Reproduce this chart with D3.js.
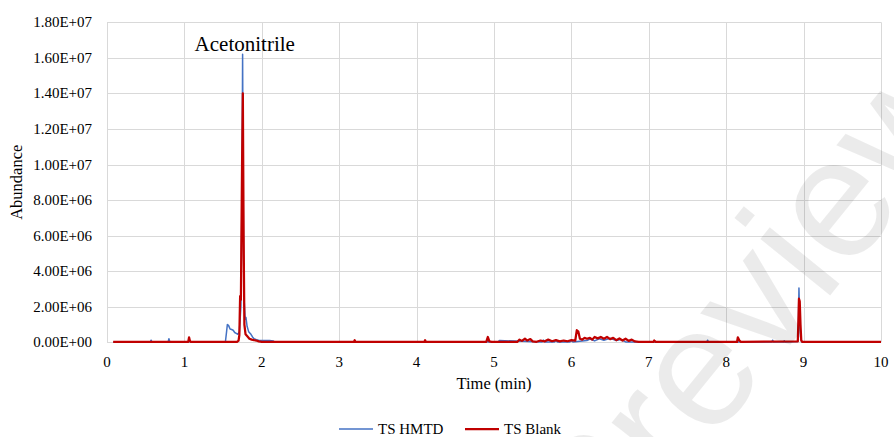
<!DOCTYPE html>
<html lang="en">
    <head>
        <meta charset="utf-8">
        <title>TS HMTD vs Blank</title>
        <script src="https://d3js.org/d3.v7.min.js"></script>
        <style type="text/css">
            body { margin: 0; background: #fff; }
            .tick-label {
                font-family: "Liberation Serif", "Times New Roman", serif;
                font-size: 15px;
                fill: #000;
            }
            .axis-title {
                font-family: "Liberation Serif", "Times New Roman", serif;
                font-size: 16.5px;
                fill: #000;
            }
        </style>
    </head>
    <body>
        <script type="text/javascript">
            // Data (abundance in millions, time in min)
            const timeHMTD = [0.08, 0.56, 0.57, 0.58, 0.79, 0.80, 0.81, 0.82, 1.05, 1.06, 1.07,
                1.53, 1.545, 1.555, 1.57, 1.59, 1.61, 1.63, 1.65, 1.67, 1.69, 1.71, 1.73, 1.745, 1.752, 1.76, 1.77,
                1.785, 1.795, 1.81, 1.83, 1.86, 1.88, 1.90, 1.93, 1.96, 2.00, 2.10, 2.15, 2.16,
                4.91, 4.92, 4.93, 5.05, 5.07, 5.62, 5.64, 5.66, 5.78, 5.80, 5.82, 5.98, 6.00, 6.02,
                6.20, 6.24, 6.30, 6.36, 6.42, 6.50, 6.58, 6.64, 6.70,
                7.75, 7.76, 7.77, 8.59, 8.60, 8.61, 8.74, 8.75, 8.76,
                8.925, 8.93, 8.94, 8.95, 8.96, 8.975, 10.0];
            const absHMTD = [0.02, 0.02, 0.12, 0.02, 0.02, 0.20, 0.05, 0.02, 0.02, 0.10, 0.02,
                0.03, 0.60, 1.00, 0.95, 0.75, 0.72, 0.68, 0.55, 0.50, 0.45, 0.60, 2.00, 9.00, 16.2, 8.00, 2.50,
                1.30, 1.40, 0.90, 0.60, 0.45, 0.30, 0.20, 0.15, 0.12, 0.10, 0.10, 0.08, 0.02,
                0.02, 0.15, 0.02, 0.02, 0.10, 0.02, 0.12, 0.02, 0.02, 0.12, 0.02, 0.02, 0.10, 0.02,
                0.10, 0.18, 0.08, 0.20, 0.12, 0.22, 0.10, 0.15, 0.02,
                0.02, 0.12, 0.02, 0.02, 0.12, 0.02, 0.02, 0.08, 0.02,
                0.05, 0.30, 3.05, 1.20, 0.30, 0.02, 0.02];

            const timeBlank = [0.08, 1.05, 1.06, 1.07, 1.08,
                1.68, 1.70, 1.71, 1.72, 1.73, 1.745, 1.755, 1.765, 1.775, 1.79, 1.81, 1.84, 1.87, 1.90, 1.93, 1.96, 2.00,
                3.19, 3.20, 3.21, 4.10, 4.11, 4.12, 4.90, 4.92, 4.94, 4.97,
                5.30, 5.33, 5.36, 5.40, 5.43, 5.47, 5.50, 5.55,
                5.60, 5.65, 5.70, 5.75, 5.80, 5.85, 5.90, 5.95, 6.00, 6.05, 6.07, 6.09, 6.11,
                6.14, 6.17, 6.20, 6.24, 6.27, 6.30, 6.34, 6.38, 6.42, 6.46, 6.50, 6.54, 6.58,
                6.62, 6.66, 6.70, 6.74, 6.78, 6.82, 6.87,
                7.06, 7.07, 7.09, 8.14, 8.15, 8.17, 8.19,
                8.925, 8.935, 8.94, 8.95, 8.96, 8.97, 8.985, 10.0];
            const absBlank = [0.02, 0.03, 0.28, 0.10, 0.03,
                0.03, 0.10, 0.40, 2.60, 2.40, 10.0, 14.0, 6.00, 1.00, 0.45, 0.35, 0.20, 0.15, 0.12, 0.10, 0.05, 0.02,
                0.02, 0.12, 0.02, 0.02, 0.12, 0.02, 0.02, 0.30, 0.05, 0.02,
                0.02, 0.15, 0.08, 0.20, 0.10, 0.18, 0.05, 0.03,
                0.10, 0.05, 0.15, 0.06, 0.12, 0.05, 0.10, 0.06, 0.12, 0.10, 0.68, 0.60, 0.20,
                0.15, 0.25, 0.20, 0.25, 0.15, 0.30, 0.22, 0.30, 0.20, 0.30, 0.18, 0.25, 0.12,
                0.22, 0.10, 0.20, 0.08, 0.15, 0.05, 0.02,
                0.02, 0.10, 0.02, 0.02, 0.28, 0.10, 0.02,
                0.05, 1.50, 2.45, 2.30, 1.00, 0.10, 0.02, 0.02];

            const xTicks = [0, 1, 2, 3, 4, 5, 6, 7, 8, 9, 10];
            const yTicks = [0, 2e6, 4e6, 6e6, 8e6, 10e6, 12e6, 14e6, 16e6, 18e6];
            const seriesNames = ["TS HMTD", "TS Blank"];
            const seriesColors = ["#4472C4", "#C00000"];

            //constants
            const w = 894;
            const h = 437;
            const plotLeft = 107, plotRight = 881, plotTop = 22.3, plotBottom = 342.3;

            const x = d3.scaleLinear().domain([0, 10]).range([plotLeft, plotRight]);
            const y = d3.scaleLinear().domain([0, 18e6]).range([plotBottom, plotTop]);

            // 1.80E+07 style labels
            const sci = v => {
                const s = d3.format(".2e")(v).split("e");
                const ex = +s[1];
                return s[0] + "E" + (ex < 0 ? "-" : "+") + String(Math.abs(ex)).padStart(2, "0");
            };

            const svg = d3.select("body")
                          .append("svg")
                          .attr("width", w)
                          .attr("height", h);

            //gridlines
            svg.append("g")
               .selectAll("line")
               .data(yTicks)
               .enter()
               .append("line")
               .attr("x1", plotLeft).attr("x2", plotRight)
               .attr("y1", d => Math.round(y(d)) + 0.5).attr("y2", d => Math.round(y(d)) + 0.5)
               .attr("stroke", "#d9d9d9");

            svg.append("g")
               .selectAll("line")
               .data(xTicks)
               .enter()
               .append("line")
               .attr("x1", d => Math.round(x(d)) + 0.5).attr("x2", d => Math.round(x(d)) + 0.5)
               .attr("y1", plotTop).attr("y2", plotBottom)
               .attr("stroke", "#d9d9d9");

            //tick labels
            svg.append("g")
               .selectAll("text")
               .data(yTicks)
               .enter()
               .append("text")
               .attr("class", "tick-label")
               .attr("x", 92)
               .attr("y", d => y(d) + 5)
               .attr("text-anchor", "end")
               .text(sci);

            svg.append("g")
               .selectAll("text")
               .data(xTicks)
               .enter()
               .append("text")
               .attr("class", "tick-label")
               .attr("x", d => x(d))
               .attr("y", 367)
               .attr("text-anchor", "middle")
               .text(d => d);

            //axis titles
            svg.append("text")
               .attr("class", "axis-title")
               .attr("x", (plotLeft + plotRight) / 2)
               .attr("y", 389)
               .attr("text-anchor", "middle")
               .text("Time (min)");

            svg.append("text")
               .attr("class", "axis-title")
               .attr("transform", "translate(22," + ((plotTop + plotBottom) / 2) + ") rotate(-90)")
               .attr("text-anchor", "middle")
               .text("Abundance");

            //lines
            const line = d3.line()
                           .x(d => x(d[0]))
                           .y(d => y(d[1] * 1e6));

            const series = [d3.zip(timeHMTD, absHMTD), d3.zip(timeBlank, absBlank)];
            const widths = [1.5, 2.25];

            svg.append("g")
               .selectAll("path")
               .data(series)
               .enter()
               .append("path")
               .attr("d", line)
               .attr("fill", "none")
               .attr("stroke", (d, i) => seriesColors[i])
               .attr("stroke-width", (d, i) => widths[i])
               .attr("stroke-linejoin", "round");

            //peak annotation
            svg.append("text")
               .attr("x", x(1.78))
               .attr("y", y(16.4e6))
               .attr("text-anchor", "middle")
               .attr("font-family", "Liberation Serif, Times New Roman, serif")
               .attr("font-size", "21px")
               .text("Acetonitrile");

            //legend
            const legendX = [339, 465];
            const legend = svg.append("g")
                              .selectAll("g")
                              .data(seriesNames)
                              .enter()
                              .append("g")
                              .attr("transform", (d, i) => "translate(" + legendX[i] + ",429)");

            legend.append("line")
                  .attr("x1", 0).attr("x2", 34)
                  .attr("stroke", (d, i) => seriesColors[i])
                  .attr("stroke-width", (d, i) => widths[i]);

            legend.append("text")
                  .attr("class", "tick-label")
                  .attr("x", 39)
                  .attr("y", 5)
                  .text(d => d);

            //watermark
            svg.append("text")
               .attr("transform", "translate(603,576) rotate(-51)")
               .attr("font-family", "Liberation Sans, Arial, sans-serif")
               .attr("font-size", "170px")
               .attr("fill", "#000")
               .attr("fill-opacity", 0.08)
               .text("Preview");
        </script>
    </body>
</html>
